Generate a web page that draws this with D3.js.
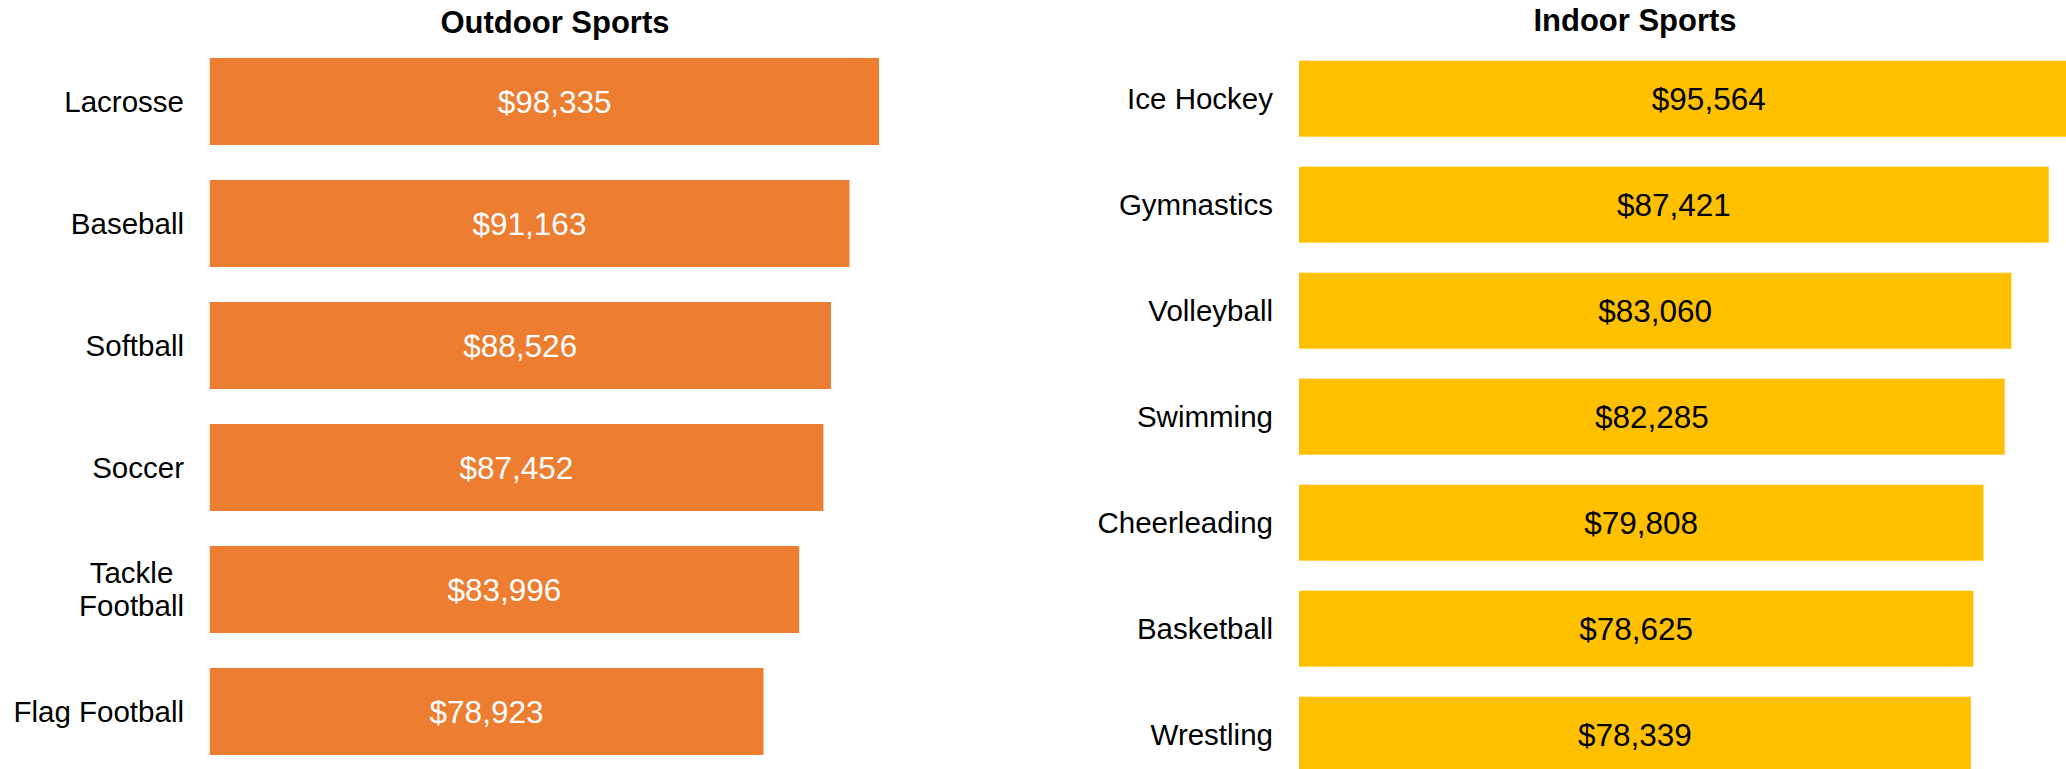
<!DOCTYPE html>
<html>
<head>
<meta charset="utf-8">
<script src="https://cdn.jsdelivr.net/npm/d3@7"></script>
<style>
  html, body { margin: 0; padding: 0; background: #fff; }
  svg { display: block; }
  text { font-family: "Liberation Sans", Arial, Helvetica, sans-serif; }
</style>
</head>
<body>
<svg id="chart" width="2066" height="769"></svg>
<script>
// Average cost by sport, split into outdoor and indoor
const outdoorSports = ["Lacrosse", "Baseball", "Softball", "Soccer", "Tackle Football", "Flag Football"];
const outdoorCosts  = [98335, 91163, 88526, 87452, 83996, 78923];

const indoorSports = ["Ice Hockey", "Gymnastics", "Volleyball", "Swimming", "Cheerleading", "Basketball", "Wrestling"];
const indoorCosts  = [95564, 87421, 83060, 82285, 79808, 78625, 78339];

const panelTitles = ["Outdoor Sports", "Indoor Sports"];

const W = 2066, H = 769;
const svg = d3.select("#chart");
const fmt = v => "$" + d3.format(",")(v);

const panels = [
  {
    title: panelTitles[0], cats: outdoorSports, vals: outdoorCosts,
    fill: "#ED7D31", labelColor: "#ffffff",
    x0: 209.5, scaleWidth: 702, clipRight: 879,
    yRange: [40.5, 772.5], padIn: 0.287,
    titleX: 555, titleY: 32.5, labelRight: 184, wrapWidth: 180
  },
  {
    title: panelTitles[1], cats: indoorSports, vals: indoorCosts,
    fill: "#FFC000", labelColor: "#000000",
    x0: 1299, scaleWidth: 857.6, clipRight: W,
    yRange: [45.7, 787.7], padIn: 0.283,
    titleX: 1635, titleY: 30.5, labelRight: 1273, wrapWidth: 260
  }
];

panels.forEach((p, i) => {
  const x = d3.scaleLinear().domain([0, 100000]).range([p.x0, p.x0 + p.scaleWidth]);
  const y = d3.scaleBand().domain(p.cats).range(p.yRange)
    .paddingInner(p.padIn).paddingOuter(p.padIn / 2);

  const clipId = "plot-clip-" + i;
  svg.append("clipPath").attr("id", clipId)
    .append("rect").attr("x", p.x0).attr("y", 0)
    .attr("width", p.clipRight - p.x0).attr("height", H);

  const g = svg.append("g");

  // title
  g.append("text")
    .attr("x", p.titleX).attr("y", p.titleY)
    .attr("text-anchor", "middle")
    .attr("font-size", 31).attr("font-weight", "bold").attr("fill", "#000")
    .text(p.title);

  const data = p.cats.map((c, j) => ({ cat: c, val: p.vals[j] }));

  // bars, clipped to the plot area
  g.append("g").attr("clip-path", `url(#${clipId})`)
    .selectAll("rect").data(data).join("rect")
    .attr("x", x(0))
    .attr("y", d => y(d.cat))
    .attr("width", d => x(d.val) - x(0))
    .attr("height", y.bandwidth())
    .attr("fill", p.fill);

  // value labels centred on each bar
  g.append("g").selectAll("text").data(data).join("text")
    .attr("x", d => (x(0) + x(d.val)) / 2)
    .attr("y", d => y(d.cat) + y.bandwidth() / 2)
    .attr("dy", "0.35em")
    .attr("text-anchor", "middle")
    .attr("font-size", 31.5)
    .attr("fill", p.labelColor)
    .text(d => fmt(d.val));

  // category labels, wrapped when wider than the label column
  const labels = g.append("g");
  data.forEach(d => {
    const cy = y(d.cat) + y.bandwidth() / 2;
    const words = d.cat.split(" ");
    const probe = labels.append("text").attr("font-size", 29.5);
    const lines = [];
    let cur = [];
    words.forEach(w => {
      const test = cur.concat([w]).join(" ");
      probe.text(test);
      if (probe.node().getComputedTextLength() > p.wrapWidth && cur.length) {
        lines.push(cur.join(" "));
        cur = [w];
      } else {
        cur.push(w);
      }
    });
    lines.push(cur.join(" "));
    const widths = lines.map(l => { probe.text(l); return probe.node().getComputedTextLength(); });
    probe.remove();
    const blockW = d3.max(widths);
    const lh = 33;
    lines.forEach((l, k) => {
      labels.append("text")
        .attr("x", lines.length > 1 ? p.labelRight - blockW / 2 : p.labelRight)
        .attr("y", cy + (k - (lines.length - 1) / 2) * lh)
        .attr("dy", "0.35em")
        .attr("text-anchor", lines.length > 1 ? "middle" : "end")
        .attr("font-size", 29.5)
        .attr("fill", "#000")
        .text(l);
    });
  });
});
</script>
</body>
</html>
